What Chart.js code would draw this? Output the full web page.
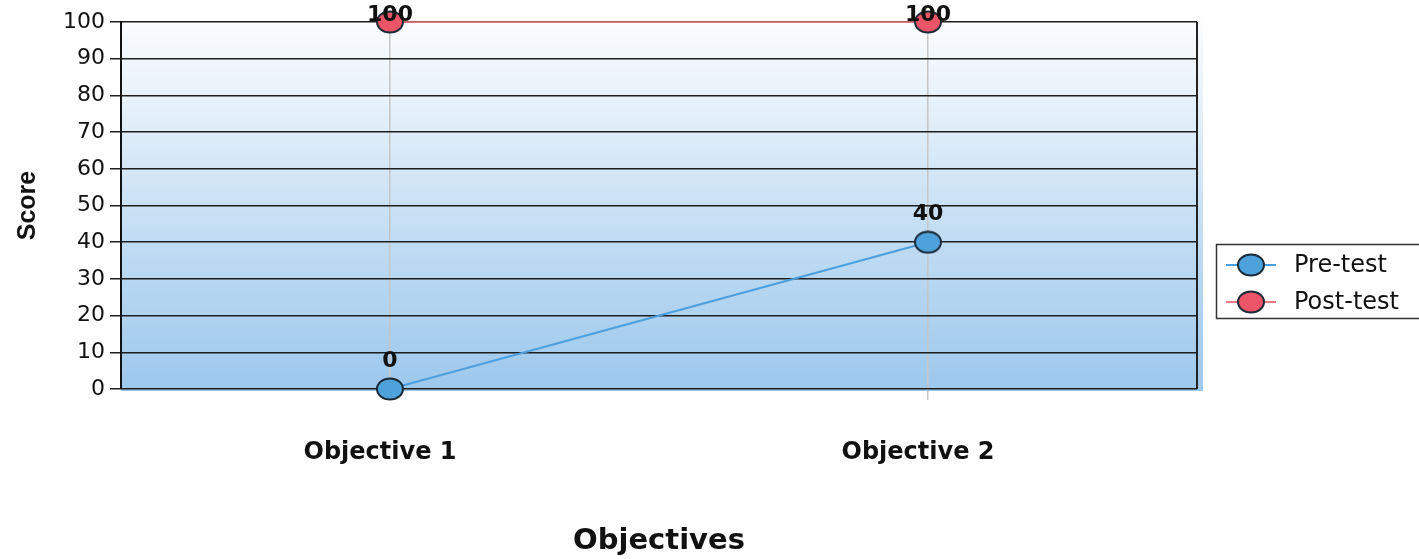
<!DOCTYPE html>
<html><head><meta charset="utf-8">
<script src="https://cdn.jsdelivr.net/npm/chart.js@4/dist/chart.umd.min.js"></script>
<style>html,body{margin:0;padding:0;background:#fff;overflow:hidden}</style>
</head><body>
<canvas id="c" width="1419" height="559"></canvas>
<script>
const categories = ['Objective 1', 'Objective 2'];
const preTest = [0, 40];
const postTest = [100, 100];
const seriesNames = ['Pre-test', 'Post-test'];
const yTicks = [0, 10, 20, 30, 40, 50, 60, 70, 80, 90, 100];
const xTitle = 'Objectives';
const yTitle = 'Score';

const PRE_FILL = '#4da2dc', POST_FILL = '#ec5467';
const PRE_LINE = '#4a9fe0', POST_LINE = '#f07585';

function makeEllipse(fill) {
  const c = document.createElement('canvas');
  c.width = 30; c.height = 24;
  const x = c.getContext('2d');
  x.beginPath();
  x.ellipse(15, 12, 13, 10.5, 0, 0, Math.PI * 2);
  x.fillStyle = fill; x.fill();
  x.lineWidth = 2; x.strokeStyle = '#1c2a38'; x.stroke();
  return c;
}
const preMarker = makeEllipse(PRE_FILL);
const postMarker = makeEllipse(POST_FILL);

const bgPlugin = {
  id: 'bg',
  beforeDraw(chart) {
    const {ctx, chartArea: a} = chart;
    ctx.save();
    ctx.fillStyle = '#fff';
    ctx.fillRect(0, 0, chart.width, chart.height);
    const g = ctx.createLinearGradient(0, a.top, 0, a.bottom);
    g.addColorStop(0, '#fbfcfd');
    g.addColorStop(0.2, '#e8f2fa');
    g.addColorStop(0.6, '#c0dcf3');
    g.addColorStop(1, '#9dc8ec');
    ctx.fillStyle = g;
    ctx.fillRect(a.left, a.top, a.right - a.left + 6, a.bottom - a.top + 2);
    ctx.restore();
  },
  beforeDatasetsDraw(chart) {
    const {ctx, chartArea: a} = chart;
    ctx.save();
    ctx.strokeStyle = '#222';
    ctx.lineWidth = 2;
    ctx.beginPath();
    ctx.moveTo(a.right, a.top);
    ctx.lineTo(a.right, a.bottom);
    ctx.stroke();
    ctx.restore();
  }
};

const labelPlugin = {
  id: 'vals',
  afterDatasetsDraw(chart) {
    const {ctx} = chart;
    ctx.save();
    ctx.font = 'bold 22px "DejaVu Sans"';
    ctx.fillStyle = '#111';
    ctx.textAlign = 'center';
    ctx.textBaseline = 'middle';
    chart.data.datasets.forEach((ds, i) => {
      const meta = chart.getDatasetMeta(i);
      meta.data.forEach((pt, j) => {
        const y = Math.max(pt.y - 28, 15);
        ctx.fillText(String(ds.data[j]), pt.x, y);
      });
    });
    ctx.restore();
  }
};

const legendPlugin = {
  id: 'customLegend',
  afterDraw(chart) {
    const {ctx} = chart;
    ctx.save();
    ctx.strokeStyle = '#333';
    ctx.lineWidth = 1.5;
    ctx.strokeRect(1216.5, 244.5, 210, 74);
    const ys = [265, 302];
    chart.data.datasets.forEach((ds, i) => {
      const y = ys[i];
      ctx.strokeStyle = ds.borderColor;
      ctx.lineWidth = 2;
      ctx.beginPath(); ctx.moveTo(1226, y); ctx.lineTo(1276, y); ctx.stroke();
      const img = ds.pointStyle;
      ctx.drawImage(img, 1251 - img.width / 2, y - img.height / 2);
      ctx.font = '24px "DejaVu Sans"';
      ctx.fillStyle = '#111';
      ctx.textAlign = 'left';
      ctx.textBaseline = 'middle';
      ctx.fillText(ds.label, 1294, y + 1);
    });
    ctx.restore();
  }
};

new Chart(document.getElementById('c'), {
  type: 'line',
  data: {
    labels: categories,
    datasets: [
      { label: seriesNames[0], data: preTest, borderColor: PRE_LINE, borderWidth: 2, clip: false,
        pointStyle: preMarker, pointRadius: 12, pointHoverRadius: 12, tension: 0, fill: false },
      { label: seriesNames[1], data: postTest, borderColor: POST_LINE, borderWidth: 1.5, clip: false,
        pointStyle: postMarker, pointRadius: 12, pointHoverRadius: 12, tension: 0, fill: false }
    ]
  },
  options: {
    responsive: false,
    animation: false,
    events: [],
    layout: { padding: { top: 22, right: 222, left: 0, bottom: 0 } },
    plugins: { legend: { display: false }, tooltip: { enabled: false } },
    scales: {
      x: {
        type: 'category',
        offset: true,
        grid: { offset: false, color: '#c6c6c6', lineWidth: 1.5, tickLength: 11, drawTicks: true },
        border: { display: false },
        ticks: { font: { family: 'DejaVu Sans', weight: 'bold', size: 24 }, color: '#111', padding: 38, maxRotation: 0, labelOffset: -10 },
        title: { display: true, text: xTitle, font: { family: 'DejaVu Sans', weight: 'bold', size: 29 }, color: '#111', padding: { top: 0, bottom: 0 } },
        afterFit(s) { s.height = 170; }
      },
      y: {
        min: 0, max: 100,
        afterBuildTicks(s) { s.ticks = yTicks.map(v => ({ value: v })); },
        grid: { color: '#1e1e1e', lineWidth: 1.5, tickLength: 11, drawTicks: true },
        border: { display: true, color: '#111', width: 2 },
        ticks: { font: { family: 'DejaVu Sans', size: 22 }, color: '#111', padding: 5 },
        title: { display: true, text: yTitle, font: { family: 'Liberation Sans', weight: 'bold', size: 25 }, color: '#111', padding: { top: 13, bottom: 0 } },
        afterFit(s) { s.width = 121; }
      }
    }
  },
  plugins: [bgPlugin, labelPlugin, legendPlugin]
});
</script>
</body></html>
